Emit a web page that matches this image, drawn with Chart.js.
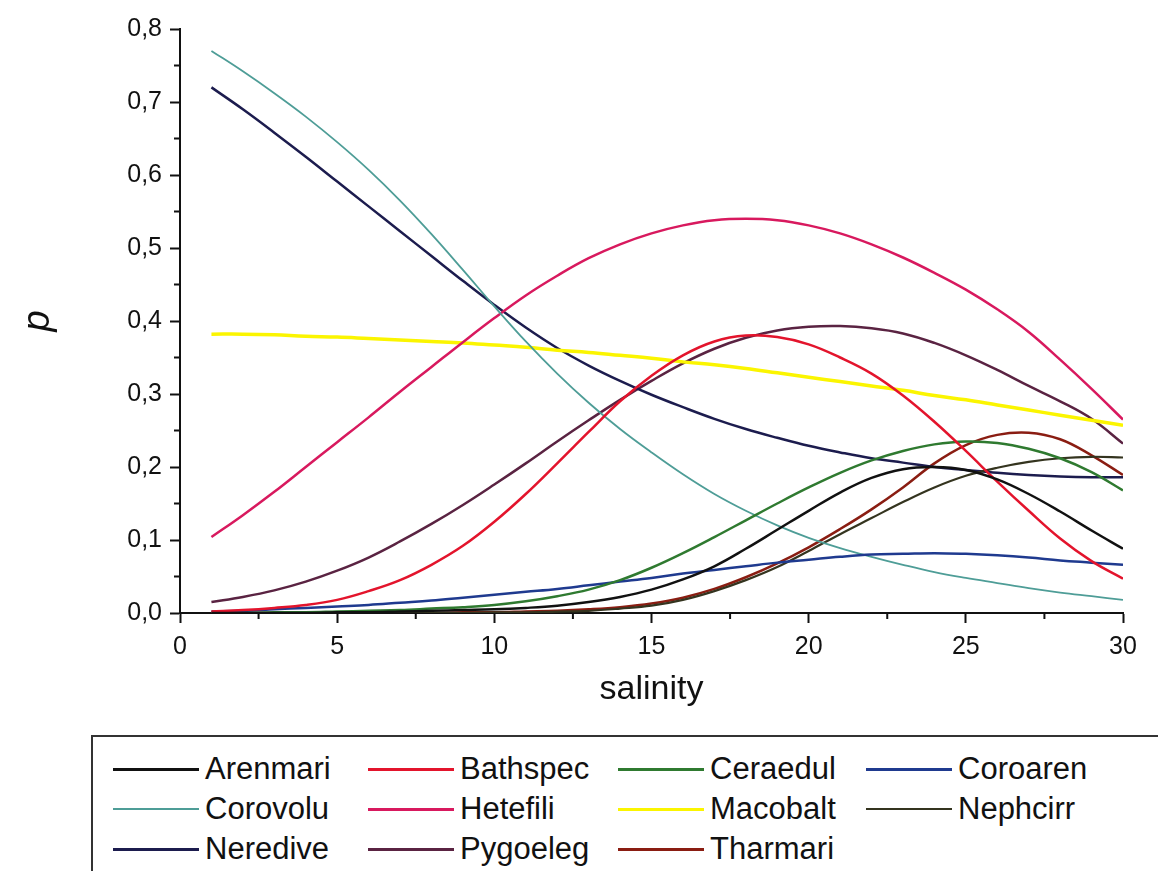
<!DOCTYPE html>
<html>
<head>
<meta charset="utf-8">
<title>p vs salinity</title>
<script src="https://cdn.jsdelivr.net/npm/chart.js@4.4.1/dist/chart.umd.min.js"></script>
<style>
  html, body { margin: 0; padding: 0; background: #fff; overflow: hidden; }
  body { width: 1158px; height: 871px; position: relative; font-family: "Liberation Sans", Arial, sans-serif; }
  #chart-wrap { position: absolute; left: 0; top: 0; width: 1158px; height: 720px; }
  #legend-box {
    position: absolute; left: 91px; top: 735px; width: 1100px; height: 200px;
    border-top: 2px solid #333; border-left: 2px solid #333;
    box-sizing: border-box; padding-top: 12px;
  }
  .legend-row { display: flex; height: 40px; align-items: center; }
  .legend-item { display: flex; align-items: center; font-size: 31px; color: #111; }
  .legend-item:nth-child(1) { margin-left: 20px; width: 255px; }
  .legend-item:nth-child(2) { width: 250px; }
  .legend-item:nth-child(3) { width: 248px; }
  .legend-line { display: inline-block; width: 86px; height: 0; border-top: 3px solid #000; margin-right: 6px; }
</style>
</head>
<body>
<div id="chart-wrap"><canvas id="salinityChart"></canvas></div>
<div id="legend-box"></div>

<script>
// DATA
const salinity = [1, 2, 3, 4, 5, 6, 7, 8, 9, 10, 11, 12, 13, 14, 15, 16, 17, 18, 19, 20, 21, 22, 23, 24, 25, 26, 27, 28, 29, 30];

const arenmari = [0.000, 0.000, 0.000, 0.000, 0.001, 0.001, 0.002, 0.003, 0.004, 0.005, 0.007, 0.010, 0.015, 0.022, 0.032, 0.046, 0.064, 0.088, 0.114, 0.140, 0.165, 0.185, 0.197, 0.200, 0.196, 0.183, 0.163, 0.139, 0.113, 0.088];
const bathspec = [0.002, 0.004, 0.007, 0.011, 0.018, 0.030, 0.045, 0.066, 0.092, 0.125, 0.163, 0.205, 0.248, 0.290, 0.325, 0.353, 0.372, 0.380, 0.378, 0.368, 0.350, 0.328, 0.298, 0.262, 0.222, 0.180, 0.140, 0.102, 0.071, 0.047];
const ceraedul = [0.000, 0.000, 0.001, 0.001, 0.002, 0.003, 0.004, 0.006, 0.008, 0.011, 0.016, 0.023, 0.032, 0.045, 0.062, 0.082, 0.104, 0.127, 0.150, 0.172, 0.192, 0.209, 0.222, 0.231, 0.235, 0.233, 0.225, 0.212, 0.193, 0.168];
const coroaren = [0.002, 0.003, 0.005, 0.007, 0.009, 0.011, 0.014, 0.017, 0.021, 0.025, 0.029, 0.033, 0.038, 0.043, 0.048, 0.054, 0.059, 0.064, 0.069, 0.073, 0.077, 0.080, 0.081, 0.082, 0.081, 0.079, 0.076, 0.072, 0.069, 0.066];
const corovolu = [0.770, 0.742, 0.712, 0.680, 0.645, 0.607, 0.565, 0.519, 0.470, 0.420, 0.372, 0.328, 0.288, 0.252, 0.220, 0.190, 0.163, 0.140, 0.120, 0.103, 0.089, 0.077, 0.066, 0.056, 0.048, 0.041, 0.034, 0.028, 0.023, 0.018];
const hetefili = [0.104, 0.134, 0.166, 0.200, 0.234, 0.268, 0.303, 0.337, 0.371, 0.404, 0.435, 0.462, 0.486, 0.505, 0.520, 0.531, 0.538, 0.540, 0.538, 0.531, 0.520, 0.505, 0.487, 0.466, 0.443, 0.416, 0.385, 0.347, 0.307, 0.265];
const macobalt = [0.382, 0.382, 0.381, 0.379, 0.378, 0.376, 0.374, 0.372, 0.370, 0.367, 0.364, 0.360, 0.357, 0.353, 0.349, 0.344, 0.340, 0.335, 0.329, 0.323, 0.317, 0.311, 0.305, 0.298, 0.292, 0.285, 0.278, 0.271, 0.264, 0.257];
const nephcirr = [0.000, 0.000, 0.000, 0.000, 0.000, 0.000, 0.000, 0.000, 0.000, 0.001, 0.001, 0.002, 0.003, 0.006, 0.010, 0.018, 0.030, 0.045, 0.063, 0.085, 0.108, 0.130, 0.152, 0.172, 0.188, 0.199, 0.207, 0.212, 0.214, 0.213];
const neredive = [0.720, 0.690, 0.658, 0.625, 0.591, 0.557, 0.523, 0.489, 0.455, 0.422, 0.391, 0.363, 0.339, 0.318, 0.299, 0.282, 0.266, 0.252, 0.240, 0.229, 0.220, 0.212, 0.206, 0.200, 0.196, 0.192, 0.189, 0.187, 0.186, 0.186];
const pygoeleg = [0.015, 0.022, 0.031, 0.043, 0.058, 0.076, 0.098, 0.122, 0.148, 0.176, 0.205, 0.235, 0.264, 0.292, 0.318, 0.342, 0.362, 0.377, 0.387, 0.392, 0.393, 0.390, 0.383, 0.370, 0.353, 0.333, 0.311, 0.290, 0.266, 0.232];
const tharmari = [0.000, 0.000, 0.000, 0.000, 0.000, 0.000, 0.000, 0.000, 0.001, 0.001, 0.002, 0.003, 0.005, 0.008, 0.013, 0.021, 0.033, 0.049, 0.068, 0.090, 0.115, 0.142, 0.172, 0.205, 0.230, 0.244, 0.247, 0.238, 0.216, 0.189];

const speciesNames = ['Arenmari', 'Bathspec', 'Ceraedul', 'Coroaren', 'Corovolu', 'Hetefili', 'Macobalt', 'Nephcirr', 'Neredive', 'Pygoeleg', 'Tharmari'];
const speciesValues = [arenmari, bathspec, ceraedul, coroaren, corovolu, hetefili, macobalt, nephcirr, neredive, pygoeleg, tharmari];

// minor tick positions between the labelled ones
const minorSalinityTicks = [2.5, 7.5, 12.5, 17.5, 22.5, 27.5];
const minorPTicks = [0.05, 0.15, 0.25, 0.35, 0.45, 0.55, 0.65, 0.75];

// STYLES
const speciesColors = ['#111111', '#e3142c', '#2f7a30', '#1f3a8f', '#4e9d97', '#d8195e', '#fbf500', '#34341f', '#1c1c4e', '#5a2342', '#8a1d12'];
const speciesWidths = [2.5, 2.5, 2.5, 2.5, 1.8, 2.5, 3.5, 2.2, 2.5, 2.5, 2.5];

const FONT = '"Liberation Sans", Arial, sans-serif';
const AXIS_COLOR = '#111';
const TEXT_COLOR = '#111';

// MINOR TICKS PLUGIN
const minorTicksPlugin = {
  id: 'minorTicks',
  afterDraw(chart) {
    const ctx = chart.ctx;
    const x = chart.scales.x;
    const y = chart.scales.y;
    const area = chart.chartArea;

    ctx.save();
    ctx.strokeStyle = AXIS_COLOR;
    ctx.lineWidth = 2;
    ctx.beginPath();
    minorSalinityTicks.forEach(v => {
      const px = x.getPixelForValue(v);
      ctx.moveTo(px, area.bottom);
      ctx.lineTo(px, area.bottom + 6);
    });
    minorPTicks.forEach(v => {
      const py = y.getPixelForValue(v);
      ctx.moveTo(area.left, py);
      ctx.lineTo(area.left - 6, py);
    });
    ctx.stroke();
    ctx.restore();
  }
};

// BUILD DATASETS
function buildDatasets() {
  return speciesNames.map((name, i) => ({
    label: name,
    data: salinity.map((s, j) => ({x: s, y: speciesValues[i][j]})),
    borderColor: speciesColors[i],
    backgroundColor: speciesColors[i],
    borderWidth: speciesWidths[i],
    pointRadius: 0,
    tension: 0.4,
    fill: false
  }));
}

// LEGEND
function buildLegend() {
  const box = document.getElementById('legend-box');
  for (let r = 0; r < speciesNames.length; r += 4) {
    const row = document.createElement('div');
    row.className = 'legend-row';
    speciesNames.slice(r, r + 4).forEach((name, k) => {
      const i = r + k;
      const item = document.createElement('div');
      item.className = 'legend-item';
      const line = document.createElement('span');
      line.className = 'legend-line';
      line.style.borderTopColor = speciesColors[i];
      line.style.borderTopWidth = (i === 4 || i === 7 ? 2 : 3) + 'px';
      item.appendChild(line);
      item.appendChild(document.createTextNode(name));
      row.appendChild(item);
    });
    box.appendChild(row);
  }
}

// CHART
function drawChart() {
  const canvas = document.getElementById('salinityChart');

  new Chart(canvas, {
    type: 'line',
    data: { datasets: buildDatasets() },
    options: {
      responsive: true,
      maintainAspectRatio: false,
      animation: false,
      layout: { padding: { left: 0, right: 35, top: 29, bottom: 0 } },
      plugins: {
        legend: { display: false },
        tooltip: { enabled: false }
      },
      scales: {
        x: {
          type: 'linear',
          min: 0,
          max: 30,
          afterFit(scale) { scale.height = 107; },
          ticks: {
            stepSize: 5,
            padding: 9,
            color: TEXT_COLOR,
            font: { family: FONT, size: 25 }
          },
          grid: {
            drawOnChartArea: false,
            drawTicks: true,
            tickLength: 10,
            tickWidth: 2,
            tickColor: AXIS_COLOR
          },
          border: { display: true, color: AXIS_COLOR, width: 2 },
          title: {
            display: true,
            text: 'salinity',
            color: TEXT_COLOR,
            font: { family: FONT, size: 34 },
            padding: { top: 0, bottom: 10 }
          }
        },
        y: {
          type: 'linear',
          min: 0,
          max: 0.8,
          afterFit(scale) { scale.width = 180; },
          ticks: {
            stepSize: 0.1,
            padding: 8,
            color: TEXT_COLOR,
            font: { family: FONT, size: 25 },
            callback: v => v.toFixed(1).replace('.', ',')
          },
          grid: {
            drawOnChartArea: false,
            drawTicks: true,
            tickLength: 10,
            tickWidth: 2,
            tickColor: AXIS_COLOR
          },
          border: { display: true, color: AXIS_COLOR, width: 2 },
          title: {
            display: true,
            text: 'p',
            color: TEXT_COLOR,
            font: { family: FONT, size: 38, style: 'italic' },
            padding: { top: 16, bottom: 0 }
          }
        }
      }
    },
    plugins: [minorTicksPlugin]
  });
}

buildLegend();
drawChart();
</script>
</body>
</html>
